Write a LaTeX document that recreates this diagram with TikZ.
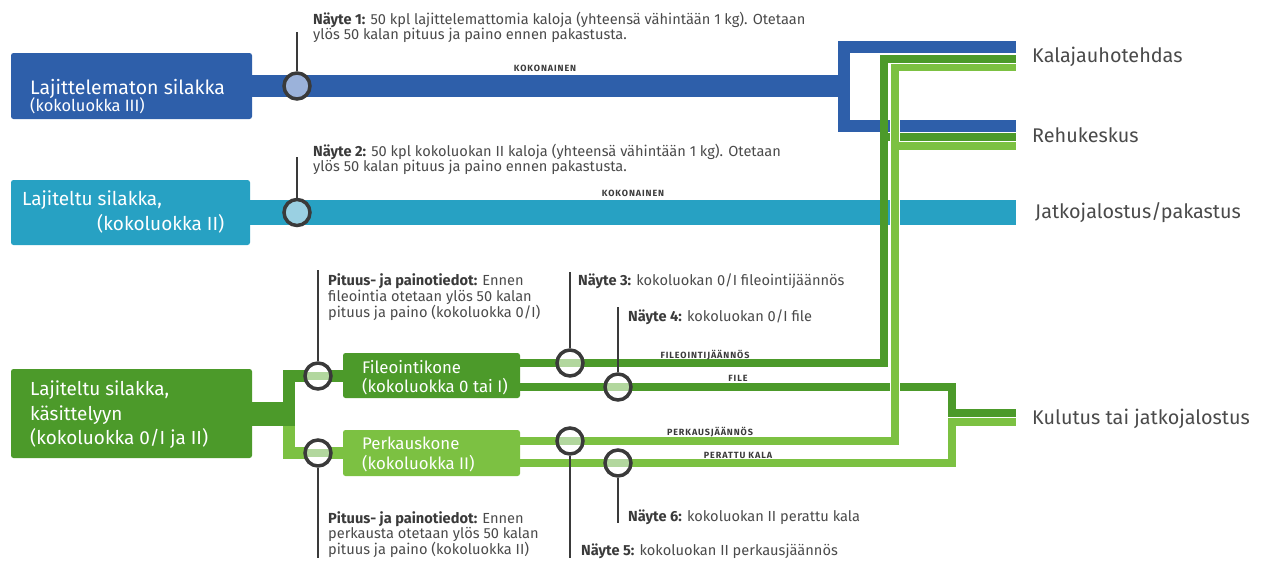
\documentclass[tikz,border=0pt]{standalone}
\usepackage{fontspec}
\setmainfont{Fira Sans}
\definecolor{dblue}{HTML}{2E5FAA}
\definecolor{cblue}{HTML}{27A1C3}
\definecolor{dgreen}{HTML}{4C9A2A}
\definecolor{lgreen}{HTML}{7CC142}
\definecolor{txtc}{HTML}{4A4A4A}
\definecolor{ringc}{HTML}{3A3A3A}
\definecolor{bandc}{HTML}{B2D79E}
\definecolor{s1fill}{HTML}{9BB2DA}
\definecolor{s2fill}{HTML}{9AD0E2}
\tikzset{
  srcbox/.style={rectangle, rounded corners=2.5pt, inner sep=0pt},
  boxtxt/.style={anchor=base west, inner sep=0pt, text=white},
  sample/.style={circle, draw=ringc, line width=3.5pt, minimum size=26pt, inner sep=0pt},
  gsample/.style={sample, fill=white, path picture={\fill[bandc] ([yshift=-4pt]path picture bounding box.west) rectangle ([yshift=4pt]path picture bounding box.east);}},
  stem/.style={draw=ringc, line width=2pt},
  note/.style={anchor=north west, inner sep=0pt, align=left, text=txtc, font=\fontsize{14.6}{15.5}\selectfont},
  tag/.style={inner sep=0pt, text=ringc, font=\bfseries\fontsize{9}{10}\selectfont\addfontfeatures{LetterSpace=10}},
  dest/.style={anchor=west, inner sep=0pt, text=txtc, font=\fontsize{19.8}{22}\selectfont},
  dline/.style={draw=dgreen, line width=7.5pt, line join=miter},
  lline/.style={draw=lgreen, line width=7.5pt, line join=miter},
  casing/.style={draw=white, line width=10pt, line join=miter},
}
\newcommand{\bb}[1]{\textbf{\color{ringc}#1}}
\begin{document}
\begin{tikzpicture}[x=1pt,y=-1pt]
\useasboundingbox (0,0) rectangle (1266,563);

% source boxes
\node[srcbox, fill=dblue, minimum width=241pt, minimum height=66pt] (b1) at (131.5,86) {};
\node[srcbox, fill=cblue, minimum width=239pt, minimum height=65pt] (b2) at (130.5,212.5) {};
\node[srcbox, fill=dgreen, minimum width=241pt, minimum height=89pt] (b3) at (131.5,413.5) {};
\node[srcbox, fill=dgreen, minimum width=177pt, minimum height=45pt] (fk) at (431.5,375.5) {};
\node[srcbox, fill=lgreen, minimum width=177pt, minimum height=46pt] (pk) at (431.5,453) {};

% destinations
\node[dest] (d1) at (1032,57) {Kalajauhotehdas};
\node[dest] (d2) at (1032,135) {Rehukeskus};
\node[dest] (d3) at (1035,213) {Jatkojalostus/pakastus};
\node[dest] (d4) at (1032,419) {Kulutus tai jatkojalostus};

% coordinates
\coordinate (bk) at (844,86);
\coordinate (e1) at (1016,47);
\coordinate (e2) at (1016,126);
\coordinate (e3) at (1016,212.5);
\coordinate (yA) at (0,363);
\coordinate (yB) at (0,387);
\coordinate (yC) at (0,441);
\coordinate (yD) at (0,463);
\coordinate (yF) at (0,376);

% blue line and bracket
\draw[dblue, line width=22pt] (b1.east) -- (bk);
\draw[dblue, line width=12pt, line join=miter] (e1) -- (844,47) -- (844,126) -- (e2);
% cyan line
\draw[cblue, line width=25pt] (b2.east) -- (e3);

% green feed from b3
\draw[dgreen, line width=24pt] (b3.east) -- (295,413.5);
\draw[dgreen, line width=12pt, line join=miter] (289,420) -- (289,376) -- (fk.west |- yF);
\draw[lgreen, line width=12pt, line join=miter] (289,426) -- (289,453) -- (pk.west);

% dark green outputs
\draw[dline] (fk.east |- yA) -- (884,363) -- (884,59) -- (1016,59);
\draw[dline] (884,137) -- (1016,137);
\draw[dline] (fk.east |- yB) -- (952,387) -- (952,413) -- (1016,413);

% light green outputs
\draw[casing] (895,441) -- (895,67.5);
\draw[lline] (pk.east |- yC) -- (895,441) -- (895,67.5) -- (1016,67.5);
\draw[lline] (895,146) -- (1016,146);
\draw[lline] (pk.east |- yD) -- (952,463) -- (952,422) -- (1016,422);

% box texts
\node[boxtxt, font=\fontsize{19.5}{22}\selectfont] (b1a) at (30,94) {Lajittelematon silakka};
\node[boxtxt, font=\fontsize{16.4}{19}\selectfont] (b1b) at (30,111) {(kokoluokka III)};
\node[boxtxt, font=\fontsize{19}{22}\selectfont] (b2a) at (22,205) {Lajiteltu silakka,};
\node[boxtxt, font=\fontsize{19}{22}\selectfont] (b2b) at (97,230) {(kokoluokka II)};
\node[boxtxt, font=\fontsize{18.9}{22}\selectfont] (b3a) at (30,395) {Lajiteltu silakka,};
\node[boxtxt, font=\fontsize{18.9}{22}\selectfont] (b3b) at (30,420) {käsittelyyn};
\node[boxtxt, font=\fontsize{18.9}{22}\selectfont] (b3c) at (30,444) {(kokoluokka 0/I ja II)};
\node[boxtxt, font=\fontsize{16.8}{20}\selectfont] (fka) at (362,373) {Fileointikone};
\node[boxtxt, font=\fontsize{16.8}{20}\selectfont] (fkb) at (362,392) {(kokoluokka 0 tai I)};
\node[boxtxt, font=\fontsize{16.8}{20}\selectfont] (pka) at (362,449) {Perkauskone};
\node[boxtxt, font=\fontsize{16.8}{20}\selectfont] (pkb) at (362,469) {(kokoluokka II)};

% line tags
\node[tag] (t1) at (545,68) {KOKONAINEN};
\node[tag] (t2) at (633,193) {KOKONAINEN};
\node[tag] (t3) at (705,355) {FILEOINTIJÄÄNNÖS};
\node[tag] (t4) at (738,378) {FILE};
\node[tag] (t5) at (710,432) {PERKAUSJÄÄNNÖS};
\node[tag] (t6) at (738,455) {PERATTU KALA};

% sample points
\node[sample, fill=s1fill] (s1) at (297,86) {};
\node[sample, fill=s2fill] (s2) at (297,212.5) {};
\node[gsample] (p1) at (318,376) {};
\node[gsample] (n3) at (570,363) {};
\node[gsample] (n4) at (618,387) {};
\node[gsample] (p2) at (318,453) {};
\node[gsample] (n5) at (570,441) {};
\node[gsample] (n6) at (618,463) {};

% stems
\coordinate (s1t) at (297,32);
\coordinate (s2t) at (297,157);
\coordinate (p1t) at (318,270);
\coordinate (n3t) at (570,272);
\coordinate (n4t) at (618,307);
\coordinate (p2b) at (318,558);
\coordinate (n5b) at (570,558);
\coordinate (n6b) at (618,523);
\draw[stem] (s1.north) -- (s1t);
\draw[stem] (s2.north) -- (s2t);
\draw[stem] (p1.north) -- (p1t);
\draw[stem] (n3.north) -- (n3t);
\draw[stem] (n4.north) -- (n4t);
\draw[stem] (p2.south) -- (p2b);
\draw[stem] (n5.south) -- (n5b);
\draw[stem] (n6.south) -- (n6b);

% notes
\node[note] (a1) at (313,11.5) {\bb{Näyte 1:} 50 kpl lajittelemattomia kaloja (yhteensä vähintään 1 kg). Otetaan\\ylös 50 kalan pituus ja paino ennen pakastusta.};
\node[note] (a2) at (313,143.5) {\bb{Näyte 2:} 50 kpl kokoluokan II kaloja (yhteensä vähintään 1 kg). Otetaan\\ylös 50 kalan pituus ja paino ennen pakastusta.};
\node[note, font=\fontsize{14.6}{16}\selectfont] (a3) at (328,273.5) {\bb{Pituus- ja painotiedot:} Ennen\\fileointia otetaan ylös 50 kalan\\pituus ja paino (kokoluokka 0/I)};
\node[note] (a4) at (578,273.5) {\bb{Näyte 3:} kokoluokan 0/I fileointijäännös};
\node[note] (a5) at (628,309.5) {\bb{Näyte 4:} kokoluokan 0/I file};
\node[note, font=\fontsize{14.6}{15}\selectfont] (a6) at (328,511) {\bb{Pituus- ja painotiedot:} Ennen\\perkausta otetaan ylös 50 kalan\\pituus ja paino (kokoluokka II)};
\node[note] (a7) at (628,509.5) {\bb{Näyte 6:} kokoluokan II perattu kala};
\node[note] (a8) at (581,543.5) {\bb{Näyte 5:} kokoluokan II perkausjäännös};
\end{tikzpicture}
\end{document}
